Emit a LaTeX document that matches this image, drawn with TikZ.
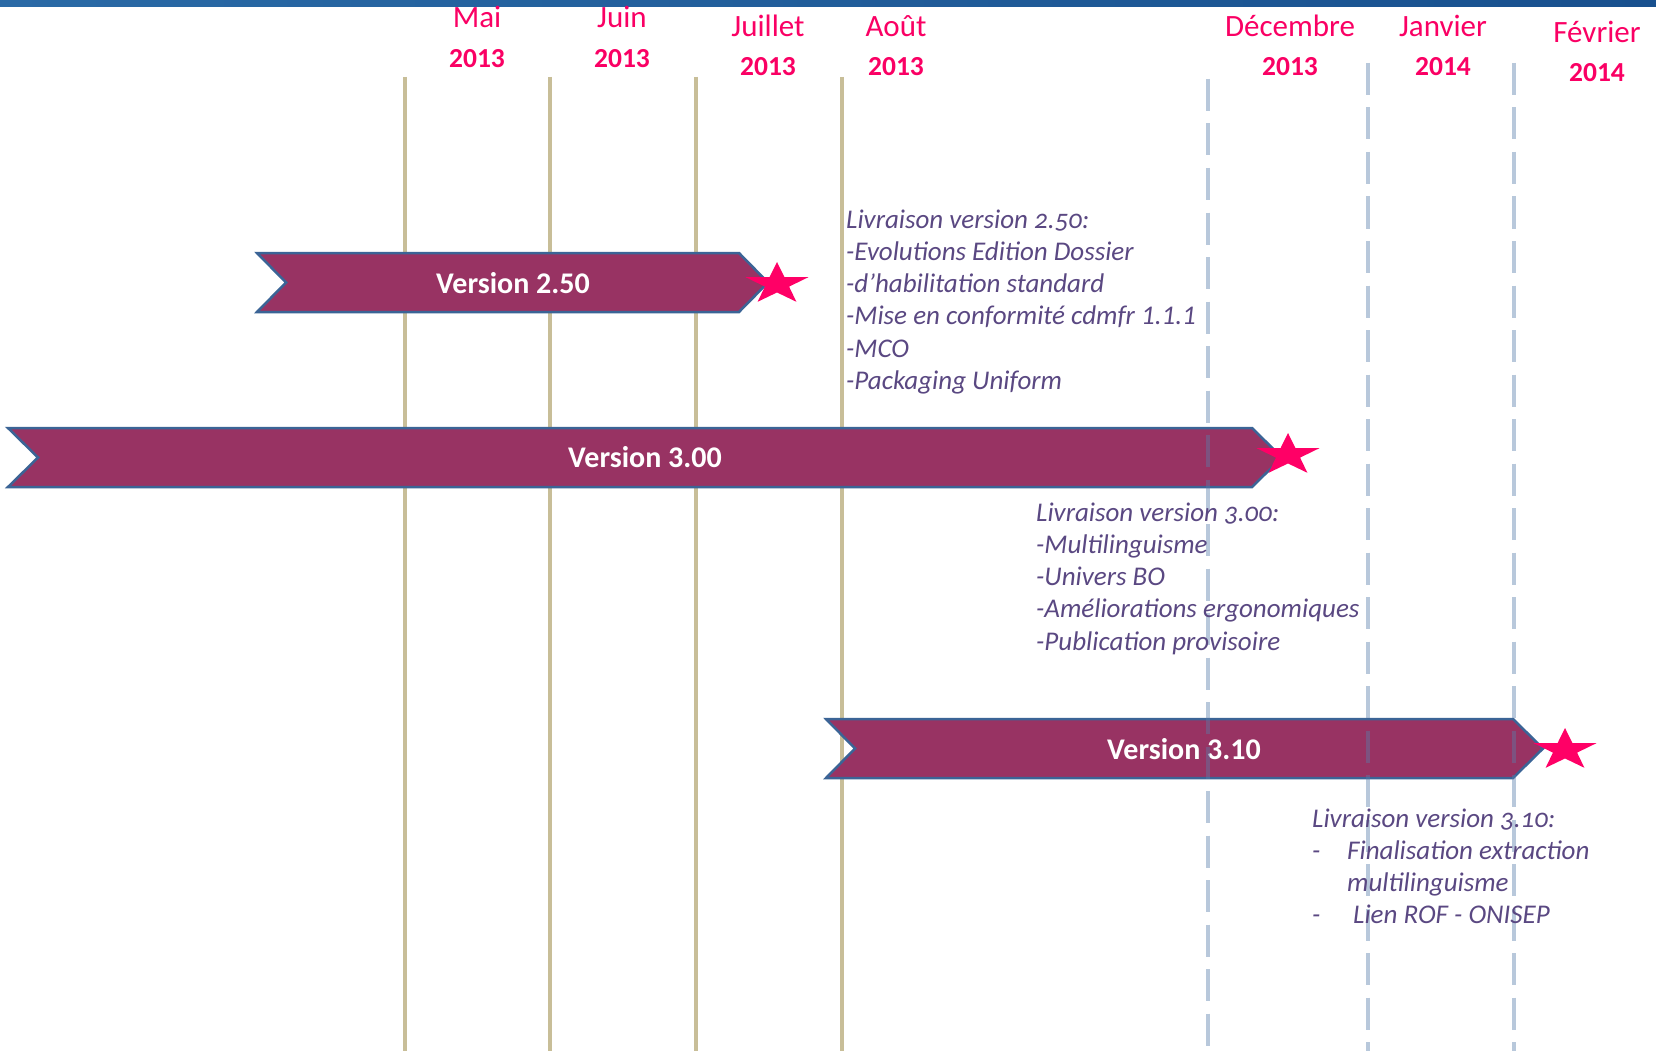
\documentclass[tikz,border=0pt]{standalone}
\usepackage{fontspec}
\setmainfont{Carlito}
\usetikzlibrary{shapes.geometric}
\definecolor{pinkc}{RGB}{250,0,100}
\definecolor{starc}{RGB}{255,0,102}
\definecolor{ribbon}{RGB}{152,51,99}
\definecolor{ribbonline}{RGB}{59,100,150}
\definecolor{tanc}{RGB}{200,190,152}
\definecolor{dashc}{RGB}{88,125,170}
\definecolor{infoc}{RGB}{90,72,130}
\definecolor{barL}{RGB}{42,106,166}
\definecolor{barR}{RGB}{24,80,142}
\begin{document}
\begin{tikzpicture}[x=1pt,y=-1pt,
  month/.style={text=pinkc, font=\fontsize{31}{36}\selectfont, anchor=base, inner sep=0pt},
  year/.style={text=pinkc, font=\fontsize{27.5}{32}\selectfont\bfseries, anchor=base, inner sep=0pt},
  monthline/.style={draw=tanc, line width=4pt},
  dashline/.style={draw=dashc, draw opacity=0.42, line width=4pt, dash pattern=on 32pt off 12.5pt},
  ribbonshape/.style={fill=ribbon, draw=ribbonline, line width=2.5pt, line join=miter},
  ribbonlabel/.style={text=white, font=\fontsize{30}{35}\selectfont\bfseries, anchor=base, inner sep=0pt},
  starmark/.style={star, star points=5, star point ratio=2.6, minimum size=44pt, inner sep=0pt, fill=starc, draw=none, transform shape},
  info/.style={text=infoc, font=\fontsize{27}{32}\selectfont\itshape, anchor=base west, inner sep=0pt},
  infonum/.style={info, font=\fontsize{27}{32}\selectfont\itshape\addfontfeatures{Numbers=OldStyle}}
]
\useasboundingbox (0,0) rectangle (1656,1051);
\fill[white] (0,0) rectangle (1656,1051);

% top bar
\shade[left color=barL, right color=barR] (0,0) rectangle (1656,7);

% month lines
\coordinate (t1) at (404.5,77);  \coordinate (b1) at (404.5,1051);
\coordinate (t2) at (550,77);    \coordinate (b2) at (550,1051);
\coordinate (t3) at (696,77);    \coordinate (b3) at (696,1051);
\coordinate (t4) at (842,77);    \coordinate (b4) at (842,1051);
\draw[monthline] (t1) -- (b1);
\draw[monthline] (t2) -- (b2);
\draw[monthline] (t3) -- (b3);
\draw[monthline] (t4) -- (b4);

% headers
\node[month] (m1) at (477,28) {Mai};
\node[year]  (y1) at (477,68) {2013};
\node[month] (m2) at (622,28) {Juin};
\node[year]  (y2) at (622,68) {2013};
\node[month] (m3) at (768,37) {Juillet};
\node[year]  (y3) at (768,76) {2013};
\node[month] (m4) at (896,37) {Août};
\node[year]  (y4) at (896,76) {2013};
\node[month] (m5) at (1290,37) {Décembre};
\node[year]  (y5) at (1290,76) {2013};
\node[month] (m6) at (1443,37) {Janvier};
\node[year]  (y6) at (1443,76) {2014};
\node[month] (m7) at (1597,43) {Février};
\node[year]  (y7) at (1597,82) {2014};

% ribbons
\draw[ribbonshape] (257,253) -- (739,253) -- (768,282.5) -- (739,312) -- (257,312) -- (286,282.5) -- cycle;
\node[ribbonlabel] (v250) at (513,293) {Version 2.50};

\draw[ribbonshape] (8,428) -- (1252,428) -- (1282,457.5) -- (1252,487) -- (8,487) -- (38,457.5) -- cycle;
\node[ribbonlabel] (v300) at (645,467) {Version 3.00};

\draw[ribbonshape] (826,719) -- (1513,719) -- (1543,748.5) -- (1513,778) -- (826,778) -- (855,748.5) -- cycle;
\node[ribbonlabel] (v310) at (1184,759) {Version 3.10};

% dashed lines
\coordinate (d1) at (1207.5,79); \coordinate (e1) at (1207.5,1051);
\coordinate (d2) at (1368,63);   \coordinate (e2) at (1368,1051);
\coordinate (d3) at (1514,63);   \coordinate (e3) at (1514,1051);
\draw[dashline] (d1) -- (e1);
\draw[dashline] (d2) -- (e2);
\draw[dashline] (d3) -- (e3);

% stars
\begin{scope}[shift={(777,284)}, xscale=1.5]
  \node[starmark] (s1) at (0,0) {};
\end{scope}
\begin{scope}[shift={(1288,455)}, xscale=1.5]
  \node[starmark] (s2) at (0,0) {};
\end{scope}
\begin{scope}[shift={(1565,750)}, xscale=1.5]
  \node[starmark] (s3) at (0,0) {};
\end{scope}

% info block 2.50
\node[infonum] (a1) at (846,228) {Livraison version 2.50:};
\node[info] (a2) at (846,260.3) {-Evolutions Edition Dossier};
\node[info] (a3) at (846,292.6) {-d’habilitation standard};
\node[info] (a4) at (846,324.9) {-Mise en conformité cdmfr 1.1.1};
\node[info] (a5) at (846,357.2) {-MCO};
\node[info] (a6) at (846,389.5) {-Packaging Uniform};

% info block 3.00
\node[infonum] (b1t) at (1036,521) {Livraison version 3.00:};
\node[info] (b2t) at (1036,553.3) {-Multilinguisme};
\node[info] (b3t) at (1036,585.6) {-Univers BO};
\node[info] (b4t) at (1036,617.9) {-Améliorations ergonomiques};
\node[info] (b5t) at (1036,650.2) {-Publication provisoire};

% info block 3.10
\node[infonum] (c1) at (1312,827) {Livraison version 3.10:};
\node[info] (c2d) at (1312,859.5) {-};
\node[info] (c2) at (1347,859.5) {Finalisation extraction};
\node[info] (c3) at (1347,891.5) {multilinguisme};
\node[info] (c4d) at (1312,923.5) {-};
\node[info] (c4) at (1353,923.5) {Lien ROF - ONISEP};
\end{tikzpicture}
\end{document}
